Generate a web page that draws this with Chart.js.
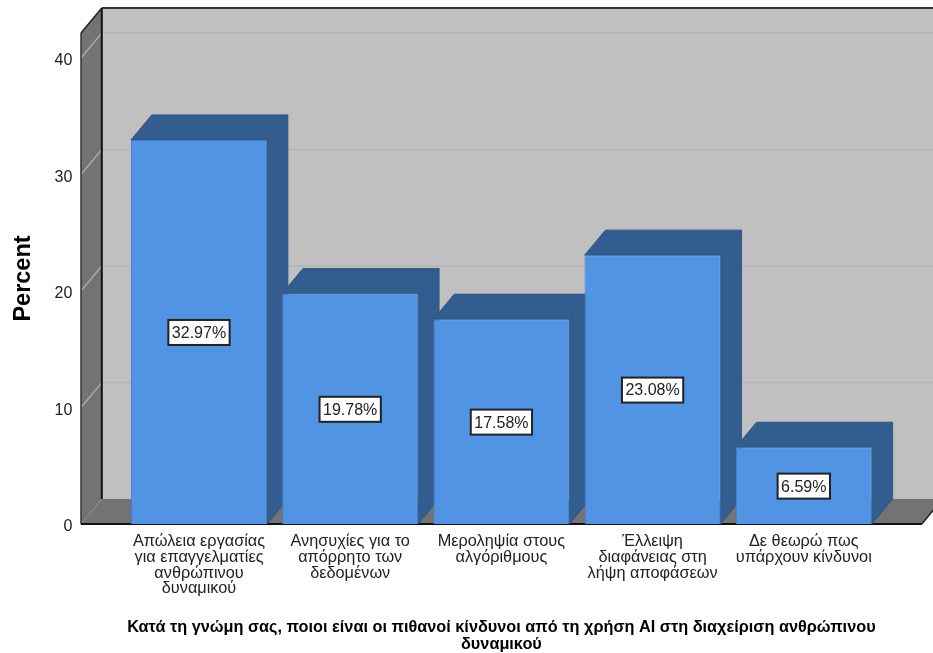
<!DOCTYPE html>
<html>
<head>
<meta charset="utf-8">
<title>Percent</title>
<script src="https://cdn.jsdelivr.net/npm/chart.js@4"></script>
<style>
  html, body { margin: 0; padding: 0; background: #fff; overflow: hidden; }
  canvas { display: block; }
</style>
</head>
<body>
<canvas id="barChart" width="933" height="653"></canvas>
<script>
const categories = [
  ["Απώλεια εργασίας", "για επαγγελματίες", "ανθρώπινου", "δυναμικού"],
  ["Ανησυχίες για το", "απόρρητο των", "δεδομένων"],
  ["Μεροληψία στους", "αλγόριθμους"],
  ["Έλλειψη", "διαφάνειας στη", "λήψη αποφάσεων"],
  ["Δε θεωρώ πως", "υπάρχουν κίνδυνοι"],
];
const percentValues = [32.97, 19.78, 17.58, 23.08, 6.59];
const xTitle = [
  "Κατά τη γνώμη σας, ποιοι είναι οι πιθανοί κίνδυνοι από τη χρήση AI στη διαχείριση ανθρώπινου",
  "δυναμικού",
];
const yTitle = "Percent";

const FONT = "'Liberation Sans', Arial, sans-serif";
const DEPTH_X = 20.8;
const DEPTH_Y = 25;
const WALL_INSET = 42.4;

function poly(ctx, pts, fill, stroke, lineWidth) {
  ctx.beginPath();
  pts.forEach((p, i) => (i ? ctx.lineTo(p[0], p[1]) : ctx.moveTo(p[0], p[1])));
  ctx.closePath();
  if (fill) {
    ctx.fillStyle = fill;
    ctx.fill();
  }
  if (stroke) {
    ctx.strokeStyle = stroke;
    ctx.lineWidth = lineWidth || 1;
    ctx.stroke();
  }
}

function line(ctx, x1, y1, x2, y2, color, width) {
  ctx.beginPath();
  ctx.moveTo(x1, y1);
  ctx.lineTo(x2, y2);
  ctx.strokeStyle = color;
  ctx.lineWidth = width;
  ctx.stroke();
}

// back wall, side wall and floor of the 3D box
const boxPlugin = {
  id: "box",
  beforeDatasetsDraw(chart) {
    const { ctx, chartArea: a, scales } = chart;
    const left = a.left - WALL_INSET;
    const right = a.right + WALL_INSET;
    const top = a.top;
    const bottom = a.bottom;
    const bx = left + DEPTH_X;

    ctx.save();
    poly(ctx, [[bx, top - DEPTH_Y], [right + DEPTH_X, top - DEPTH_Y], [right + DEPTH_X, bottom - DEPTH_Y], [bx, bottom - DEPTH_Y]], "#c0c0c0");
    poly(ctx, [[left, top], [bx, top - DEPTH_Y], [bx, bottom - DEPTH_Y], [left, bottom]], "#737373");
    poly(ctx, [[left, bottom], [bx, bottom - DEPTH_Y], [right + DEPTH_X, bottom - DEPTH_Y], [right, bottom]], "#737373");

    scales.y.ticks.forEach((t) => {
      if (t.value === 0) return;
      const y = scales.y.getPixelForValue(t.value);
      line(ctx, bx, y - DEPTH_Y, right + DEPTH_X, y - DEPTH_Y, "#b5b5b5", 1.5);
      line(ctx, left, y, bx, y - DEPTH_Y, "#a8a8a8", 1.5);
    });

    line(ctx, bx, top - DEPTH_Y, right + DEPTH_X, top - DEPTH_Y, "#333333", 2);
    line(ctx, bx, top - DEPTH_Y, bx, bottom - DEPTH_Y, "#111111", 2);
    line(ctx, left, top, bx, top - DEPTH_Y, "#222222", 1.5);
    line(ctx, left, top, left, bottom, "#333333", 1.5);
    line(ctx, left, bottom, right, bottom, "#111111", 2);
    line(ctx, right, bottom, right + DEPTH_X, bottom - DEPTH_Y, "#222222", 1.5);

    // top and right faces of the bars, the fronts go on top of these
    chart.getDatasetMeta(0).data.forEach((bar) => {
      const x1 = bar.x - bar.width / 2;
      const x2 = bar.x + bar.width / 2;
      const y = bar.y;
      poly(ctx, [[x2, y], [x2 + DEPTH_X, y - DEPTH_Y], [x2 + DEPTH_X, bottom - DEPTH_Y], [x2, bottom]], "#345d8f", "#2f5686", 1);
      poly(ctx, [[x1, y], [x1 + DEPTH_X, y - DEPTH_Y], [x2 + DEPTH_X, y - DEPTH_Y], [x2, y]], "#345d8f", "#2f5686", 1);
    });
    ctx.restore();
  },
  // value boxes in the middle of each bar
  afterDatasetsDraw(chart) {
    const { ctx, chartArea: a } = chart;
    ctx.save();
    ctx.font = "16px " + FONT;
    ctx.textAlign = "center";
    ctx.textBaseline = "middle";
    chart.getDatasetMeta(0).data.forEach((bar, i) => {
      const text = percentValues[i].toFixed(2) + "%";
      const w = ctx.measureText(text).width + 7;
      const cy = (bar.y + a.bottom) / 2 + 0.5;
      ctx.fillStyle = "#fff";
      ctx.fillRect(bar.x - w / 2, cy - 12.5, w, 25);
      ctx.strokeStyle = "#222";
      ctx.lineWidth = 2;
      ctx.strokeRect(bar.x - w / 2, cy - 12.5, w, 25);
      ctx.fillStyle = "#222";
      ctx.fillText(text, bar.x, cy + 1);
    });
    ctx.restore();
  },
};

new Chart(document.getElementById("barChart"), {
  type: "bar",
  data: {
    labels: categories,
    datasets: [
      {
        data: percentValues,
        backgroundColor: "#5294e4",
        borderColor: "#4a80c2",
        borderWidth: 1,
        barPercentage: 0.9,
        categoryPercentage: 1,
      },
    ],
  },
  options: {
    responsive: false,
    animation: false,
    layout: { padding: { top: 33, right: 53.6, bottom: 0, left: 0 } },
    plugins: {
      legend: { display: false },
      tooltip: { enabled: false },
    },
    scales: {
      x: {
        grid: { display: false, drawTicks: false },
        border: { display: false },
        afterFit: (s) => { s.height = 129; },
        ticks: {
          autoSkip: false,
          maxRotation: 0,
          padding: 10,
          color: "#222",
          font: { family: FONT, size: 16.3, lineHeight: "15.7px" },
        },
        title: {
          display: true,
          text: xTitle,
          color: "#000",
          padding: { top: 0, bottom: 0 },
          font: { family: FONT, size: 16.3, weight: "bold", lineHeight: "17px" },
        },
      },
      y: {
        min: 0,
        max: 42.15,
        grid: { display: false, drawTicks: false },
        border: { display: false },
        // the wide tick padding would otherwise push the plot area down
        afterFit: (s) => {
          s.width = 123.4;
          s.paddingTop = 0;
          s.paddingBottom = 0;
        },
        ticks: {
          stepSize: 10,
          includeBounds: false,
          padding: 51,
          labelOffset: 3,
          color: "#222",
          font: { family: FONT, size: 16 },
        },
        title: {
          display: true,
          text: yTitle,
          color: "#000",
          padding: { top: 9, bottom: 0 },
          font: { family: FONT, size: 23.5, weight: "bold" },
        },
      },
    },
  },
  plugins: [boxPlugin],
});
</script>
</body>
</html>
